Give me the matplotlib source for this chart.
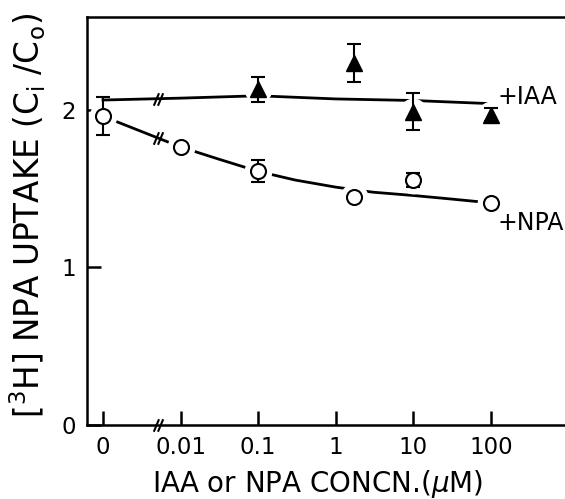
import numpy as np
import matplotlib
matplotlib.use("Agg")
import matplotlib.pyplot as plt
from matplotlib.path import Path

# concentration axis (0 is drawn one decade left of 0.01, with a break)
tick_conc = [0, 0.01, 0.1, 1, 10, 100]
tick_labels = ["0", "0.01", "0.1", "1", "10", "100"]

# +IAA (filled triangles)
iaa_conc = [0.1, 1.7, 10, 100]
iaa_val = [2.13, 2.30, 1.99, 1.97]
iaa_err = [0.08, 0.12, 0.12, 0.04]

# +NPA (open circles), first point is the control
npa_conc = [0, 0.01, 0.1, 1.7, 10, 100]
npa_val = [1.96, 1.765, 1.61, 1.45, 1.555, 1.41]
npa_err = [0.12, 0.0, 0.07, 0.0, 0.045, 0.0]

# hand-drawn curves
iaa_fit_conc = [0, 0.01, 0.1, 1, 10, 100]
iaa_fit_val = [2.063, 2.075, 2.09, 2.07, 2.06, 2.04]
npa_fit_conc = [0, 0.01, 0.03, 0.1, 0.3, 1, 3, 10, 30, 100]
npa_fit_val = [1.96, 1.765, 1.69, 1.61, 1.555, 1.51, 1.478, 1.457, 1.435, 1.41]


def pos(c):
    c = np.asarray(c, dtype=float)
    out = np.zeros_like(c)
    m = c > 0
    out[m] = np.log10(c[m]) + 3
    return out


break_x = 0.71

fig = plt.figure(figsize=(5.65, 4.99), dpi=100)
ax = fig.add_axes([0.154, 0.1483, 0.846, 0.8176])

lw = 2.0
# curves
ax.plot(pos(iaa_fit_conc), iaa_fit_val, color="black", lw=lw, zorder=1)
ax.plot(pos(npa_fit_conc), npa_fit_val, color="black", lw=lw, zorder=1)

# gaps around the points
ax.plot(pos(iaa_conc), iaa_val, "o", ms=20, mfc="white", mec="none", zorder=2)
ax.plot(pos(npa_conc), npa_val, "o", ms=20, mfc="white", mec="none", zorder=2)

# error bars
ax.errorbar(pos(iaa_conc), iaa_val, yerr=iaa_err, fmt="none", ecolor="black",
            elinewidth=1.5, capsize=4.8, capthick=1.5, zorder=3)
ax.errorbar(pos(npa_conc), npa_val, yerr=npa_err, fmt="none", ecolor="black",
            elinewidth=1.5, capsize=4.8, capthick=1.5, zorder=3)

# markers
ax.plot(pos(iaa_conc), iaa_val, "^", ms=11, mfc="black", mec="black", zorder=4)
ax.plot(pos(npa_conc), npa_val, "o", ms=10.8, mfc="white", mec="black",
        mew=1.5, zorder=4)

# axis break marks "//"
brk = Path([(-4.5, -6), (0.5, 6), (-0.5, -6), (4.5, 6)],
           [Path.MOVETO, Path.LINETO, Path.MOVETO, Path.LINETO])
brk_y = [np.interp(break_x, pos(iaa_fit_conc), iaa_fit_val),
         np.interp(break_x, pos(npa_fit_conc), npa_fit_val), 0.0]
ax.plot([break_x] * 3, brk_y, linestyle="none", marker=brk, ms=9,
        mfc="none", mec="black", mew=1.5, zorder=5, clip_on=False)

# series labels
ax.annotate("+IAA", xy=(pos([iaa_conc[-1]])[0], iaa_val[-1]), xytext=(7, 18),
            textcoords="offset pixels", fontsize=17, va="center", ha="left")
ax.annotate("+NPA", xy=(pos([npa_conc[-1]])[0], npa_val[-1]), xytext=(7, -20),
            textcoords="offset pixels", fontsize=17, va="center", ha="left")

ax.set_xlim(-0.206, 5.954)
ax.set_ylim(0, 2.59)
ax.set_xticks(pos(tick_conc))
ax.set_xticklabels(tick_labels)
ax.set_yticks([0, 1, 2])
ax.set_yticklabels(["0", "1", "2"])

for s in ["left", "bottom", "top"]:
    ax.spines[s].set_linewidth(1.8)
ax.spines["right"].set_visible(False)
ax.tick_params(axis="both", direction="in", length=10, width=1.8, labelsize=16.5)
ax.tick_params(axis="x", pad=8)
ax.tick_params(axis="y", pad=8)

fig.text(0.05, 0.569, "[$^3$H] NPA UPTAKE (C$_{\\rm i}$ /C$_{\\rm o}$)",
         rotation=90, fontsize=23.5, ha="center", va="center")
fig.text(0.563, 0.014, "IAA or NPA CONCN.($\\mu$M)", fontsize=20,
         ha="center", va="baseline")

fig.savefig("out.png", dpi=100)
